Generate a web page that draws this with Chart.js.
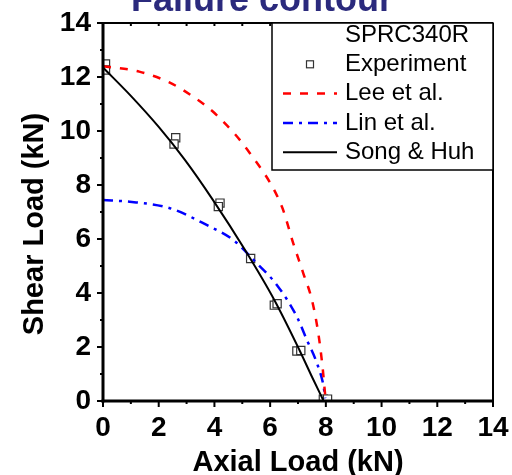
<!DOCTYPE html>
<html>
<head>
<title>Failure contour</title>
<script src="https://cdn.jsdelivr.net/npm/chart.js"></script>
<style>
    body { margin: 0; background: #fff; }
</style>
</head>
<body>
<canvas id="failureChart" width="512" height="475"></canvas>
<script>
// values (kN)
var expX = [0.09, 0.09, 2.61, 2.55, 4.2, 4.14, 5.3, 6.15, 6.25, 6.96, 7.1, 7.91, 8.06];
var expY = [12.48, 12.26, 9.75, 9.52, 7.33, 7.2, 5.28, 3.55, 3.6, 1.85, 1.87, 0.07, 0.07];

var leeX = [0, 1.3, 2.4, 3.24, 4.08, 5.28, 6.42, 6.83, 7.19, 7.5, 7.73, 7.88, 7.97, 8.0];
var leeY = [12.4, 12.2, 11.79, 11.27, 10.59, 9.17, 7.2, 5.84, 4.73, 3.74, 2.5, 1.27, 0.28, 0];

var linX = [0, 0.96, 2.4, 3.72, 4.68, 5.52, 6.24, 6.96, 7.32, 7.68, 7.91, 7.98];
var linY = [7.44, 7.38, 7.14, 6.52, 5.96, 5.1, 4.3, 3.12, 2.26, 1.4, 0.59, 0.1];

var songX = [0, 1, 2, 2.94, 3.95, 5.1, 6.15, 7.05, 7.5, 7.92];
var songY = [12.35, 11.3, 10.15, 8.93, 7.44, 5.59, 3.74, 1.89, 0.9, 0];

var tickValues = [0, 2, 4, 6, 8, 10, 12, 14];
var legendHeader = 'SPRC340R';
var yTitle = 'Shear Load (kN)';

var FONT = "'Liberation Sans', Arial, sans-serif";

function pts(xs, ys) {
    return xs.map(function(x, i) { return { x: x, y: ys[i] }; });
}

function line(ctx, x1, y1, x2, y2) {
    ctx.beginPath();
    ctx.moveTo(x1, y1);
    ctx.lineTo(x2, y2);
    ctx.stroke();
}

// axis frame with major/minor ticks
var framePlugin = {
    id: 'frame',
    afterDatasetsDraw: function(chart) {
        var ctx = chart.ctx, a = chart.chartArea;
        var xs = chart.scales.x, ys = chart.scales.y;
        ctx.save();
        ctx.strokeStyle = '#000';
        ctx.lineWidth = 2;
        for (var v = 0; v <= 14; v++) {
            var len = v % 2 ? 3 : 6;
            var px = xs.getPixelForValue(v);
            line(ctx, px, a.bottom, px, a.bottom + len);
            line(ctx, px, a.top, px, a.top + 3);
            var py = ys.getPixelForValue(v);
            line(ctx, a.left - len, py, a.left, py);
        }
        line(ctx, a.left, a.top, a.right, a.top);
        line(ctx, a.right, a.top, a.right, a.bottom);
        ctx.lineWidth = 3;
        line(ctx, a.left, a.top - 1, a.left, a.bottom + 1.5);
        line(ctx, a.left - 1.5, a.bottom, a.right + 1, a.bottom);

        // y axis title, sits a bit below the middle of the axis
        ctx.save();
        ctx.translate(35, 224);
        ctx.rotate(-Math.PI / 2);
        ctx.font = 'bold 29px ' + FONT;
        ctx.fillStyle = '#000';
        ctx.textAlign = 'center';
        ctx.textBaseline = 'middle';
        ctx.fillText(yTitle, 0, 0);
        ctx.restore();
        ctx.restore();
    }
};

// boxed legend in the upper right corner of the plot
var legendPlugin = {
    id: 'boxLegend',
    afterDraw: function(chart) {
        var ctx = chart.ctx, a = chart.chartArea;
        var left = 272, top = a.top, right = a.right, bottom = 170;
        ctx.save();
        ctx.fillStyle = '#fff';
        ctx.fillRect(left, top, right - left, bottom - top);
        ctx.strokeStyle = '#000';
        ctx.lineWidth = 1.5;
        ctx.strokeRect(left, top, right - left, bottom - top);

        ctx.font = '24px ' + FONT;
        ctx.fillStyle = '#000';
        ctx.textBaseline = 'middle';
        var rowY = 35, step = 29.3, textX = 345;
        ctx.fillText(legendHeader, textX, rowY);

        chart.data.datasets.forEach(function(ds) {
            rowY += step;
            ctx.save();
            if (ds.showLine) {
                ctx.strokeStyle = ds.borderColor;
                ctx.lineWidth = ds.borderWidth;
                ctx.setLineDash(ds.borderDash || []);
                line(ctx, 283, rowY, 337, rowY);
            } else {
                ctx.strokeStyle = ds.borderColor;
                ctx.lineWidth = 1.2;
                ctx.strokeRect(306.5, rowY - 3.5, 7, 7);
            }
            ctx.restore();
            ctx.fillText(ds.label, textX, rowY);
        });
        ctx.restore();
    }
};

// title, mostly cut off above the canvas
var titlePlugin = {
    id: 'cutTitle',
    afterDraw: function(chart) {
        var ctx = chart.ctx;
        ctx.save();
        ctx.font = 'bold 36px ' + FONT;
        ctx.fillStyle = '#2b2a7d';
        ctx.textAlign = 'center';
        ctx.textBaseline = 'alphabetic';
        ctx.fillText('Failure contour', 262, 11);
        ctx.restore();
    }
};

var ctx = document.getElementById('failureChart').getContext('2d');
new Chart(ctx, {
    type: 'scatter',
    data: {
        datasets: [
            {
                label: 'Experiment',
                data: pts(expX, expY),
                pointStyle: 'rect',
                pointRadius: 5.8,
                borderWidth: 1.2,
                borderColor: '#333',
                backgroundColor: '#fff',
                showLine: false,
                order: 10
            },
            {
                label: 'Lee et al.',
                data: pts(leeX, leeY),
                showLine: true,
                borderColor: '#ff0000',
                borderWidth: 2.5,
                borderDash: [8, 9],
                pointRadius: 0,
                cubicInterpolationMode: 'monotone',
                order: 1
            },
            {
                label: 'Lin et al.',
                data: pts(linX, linY),
                showLine: true,
                borderColor: '#0000ff',
                borderWidth: 2.5,
                borderDash: [10, 6, 3, 6],
                pointRadius: 0,
                cubicInterpolationMode: 'monotone',
                order: 1
            },
            {
                label: 'Song & Huh',
                data: pts(songX, songY),
                showLine: true,
                borderColor: '#000',
                borderWidth: 2,
                pointRadius: 0,
                cubicInterpolationMode: 'monotone',
                order: 0
            }
        ]
    },
    options: {
        responsive: false,
        animation: false,
        layout: { padding: { top: 23, right: 19, left: 0, bottom: 0 } },
        plugins: {
            legend: { display: false },
            tooltip: { enabled: false }
        },
        scales: {
            x: {
                type: 'linear',
                min: 0,
                max: 14,
                afterFit: function(scale) {
                    scale.height = 74;
                    // the "14" label may spill past the plot edge, as in the original
                    scale.paddingRight = 0;
                    scale.paddingLeft = 0;
                },
                afterBuildTicks: function(scale) {
                    scale.ticks = tickValues.map(function(v) { return { value: v }; });
                },
                grid: { display: false, drawTicks: false },
                border: { display: false },
                ticks: {
                    padding: 10,
                    color: '#000',
                    font: { family: FONT, size: 28, weight: 'bold' },
                    maxRotation: 0
                },
                title: {
                    display: true,
                    text: 'Axial Load (kN)',
                    color: '#000',
                    font: { family: FONT, size: 29, weight: 'bold', lineHeight: 1 },
                    padding: { top: 0, bottom: -2 }
                }
            },
            y: {
                type: 'linear',
                min: 0,
                max: 14,
                afterFit: function(scale) {
                    scale.width = 103;
                    scale.paddingTop = 0;
                    scale.paddingBottom = 0;
                },
                afterBuildTicks: function(scale) {
                    scale.ticks = tickValues.map(function(v) { return { value: v }; });
                },
                grid: { display: false, drawTicks: false },
                border: { display: false },
                ticks: {
                    padding: 12,
                    color: '#000',
                    font: { family: FONT, size: 28, weight: 'bold' }
                },
                title: { display: false }
            }
        }
    },
    plugins: [framePlugin, legendPlugin, titlePlugin]
});
</script>
</body>
</html>
